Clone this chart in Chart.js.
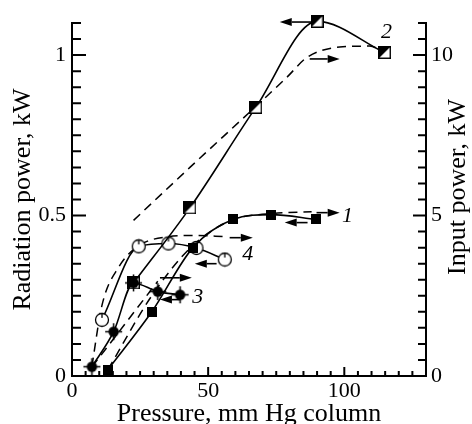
<!DOCTYPE html>
<html>
<head>
<meta charset="utf-8">
<script src="https://cdn.jsdelivr.net/npm/chart.js@4"></script>
<style>
  html, body { margin: 0; padding: 0; background: #fff; }
  #box { width: 472px; height: 424px; }
</style>
</head>
<body>
<div id="box"><canvas id="chart"></canvas></div>
<script>
// radiation power (kW, left axis) vs pressure (mm Hg), solid curves 1-4
const press1 = [13.2, 29.3, 44.4, 59.1, 73.2, 89.7];
const rad1   = [0.02, 0.20, 0.40, 0.488, 0.503, 0.488];
const press2 = [22.6, 43.3, 67.5, 90.0, 114.8];
const rad2   = [0.29, 0.524, 0.837, 1.105, 1.008];
const press3 = [7.3, 15.3, 22.6, 31.5, 39.7];
const rad3   = [0.029, 0.138, 0.29, 0.263, 0.253];
const press4 = [11.0, 24.5, 35.4, 45.7, 56.1];
const rad4   = [0.175, 0.404, 0.413, 0.399, 0.363];

// input power (kW, right axis), dashed curves
const pressIn1 = [13.2, 29.3, 44.4, 59.1, 73.2, 88.0];
const input1   = [0.2, 2.5, 4.07, 4.87, 5.06, 5.12];
const pressIn2 = [22.6, 43.3, 67.5, 78.8, 86.5, 98.3, 109.3, 114.8];
const input2   = [4.85, 6.5, 8.4, 9.3, 9.94, 10.25, 10.28, 10.08];
const pressIn3 = [7.3, 15.3, 22.6, 31.5];
const input3   = [0.28, 1.16, 1.97, 2.95];
const pressIn4 = [7.3, 11.0, 17.2, 24.5, 35.4, 45.7, 56.1];
const input4   = [0.3, 2.2, 3.4, 4.06, 4.34, 4.38, 4.34];

// arrows telling which axis a curve belongs to (pressure tail -> tip, at radiation-power level)
const arrowTail  = [88.0, 87.3, 89.8, 86.5, 32.3, 39.6, 53.1, 57.9];
const arrowTip   = [76.3, 98.3, 98.3, 78.1, 44.0, 32.3, 45.1, 66.4];
const arrowLevel = [1.103, 0.988, 0.509, 0.478, 0.306, 0.238, 0.35, 0.431];

// curve numbers
const curveNames = ['1', '2', '3', '4'];
const namePress  = [101.2, 115.5, 46.2, 64.5];
const nameRad    = [0.497, 1.072, 0.247, 0.378];

const serif = 'Liberation Serif';

function markerCanvas(size, draw) {
    const c = document.createElement('canvas');
    c.width = size; c.height = size;
    draw(c.getContext('2d'), size / 2);
    return c;
}
const squareMark = markerCanvas(10, function (g) {
    g.fillStyle = '#000'; g.fillRect(0, 0, 10, 10);
});
const halfMark = markerCanvas(13, function (g) {
    g.fillStyle = '#fff'; g.fillRect(0, 0, 13, 13);
    g.fillStyle = '#000';
    g.beginPath(); g.moveTo(1, 1); g.lineTo(12, 1); g.lineTo(1, 12); g.closePath(); g.fill();
    g.strokeStyle = '#000'; g.lineWidth = 1.5; g.strokeRect(0.75, 0.75, 11.5, 11.5);
});
const dotMark = markerCanvas(19, function (g, c) {
    g.strokeStyle = '#000'; g.lineWidth = 1.5;
    g.beginPath(); g.moveTo(c, 1); g.lineTo(c, 18); g.moveTo(1, c); g.lineTo(18, c); g.stroke();
    g.fillStyle = '#000'; g.beginPath(); g.arc(c, c, 5.2, 0, Math.PI * 2); g.fill();
});
const ringMark = markerCanvas(16, function (g, c) {
    g.fillStyle = '#fff'; g.strokeStyle = '#000'; g.lineWidth = 1.3;
    g.beginPath(); g.arc(c, c, 6.5, 0, Math.PI * 2); g.fill(); g.stroke();
    g.beginPath(); g.moveTo(c, c - 6.5); g.lineTo(c, c - 2); g.stroke();
});

function pts(xs, ys) {
    return xs.map(function (x, i) { return {x: x, y: ys[i]}; });
}
function solid(xs, ys, mark) {
    return {
        data: pts(xs, ys), yAxisID: 'y', borderColor: '#000', borderWidth: 1.6,
        pointStyle: mark, pointRadius: 6, cubicInterpolationMode: 'monotone', clip: false
    };
}
function dashed(xs, ys) {
    return {
        data: pts(xs, ys), yAxisID: 'y2', borderColor: '#000', borderWidth: 1.5,
        borderDash: [9, 6], pointRadius: 0, cubicInterpolationMode: 'monotone', clip: false
    };
}

function near(v, t) { return Math.abs(v - t) < 1e-6; }

const axisExtras = {
    id: 'axisExtras',
    afterDraw: function (chart) {
        const ctx = chart.ctx;
        const sx = chart.scales.x, sy = chart.scales.y, sy2 = chart.scales.y2;
        const area = chart.chartArea;
        ctx.save();
        ctx.strokeStyle = '#000';
        ctx.lineWidth = 2;
        ctx.beginPath();
        // inward ticks
        sx.ticks.forEach(function (t) {
            const px = sx.getPixelForValue(t.value);
            const len = near(t.value % 50, 0) ? 9 : 5;
            ctx.moveTo(px, area.bottom); ctx.lineTo(px, area.bottom - len);
        });
        sy.ticks.forEach(function (t) {
            const py = sy.getPixelForValue(t.value);
            const len = near(t.value * 2, Math.round(t.value * 2)) ? 14 : 9;
            ctx.moveTo(area.left, py); ctx.lineTo(area.left + len, py);
        });
        sy2.ticks.forEach(function (t) {
            const py = sy2.getPixelForValue(t.value);
            const len = near(t.value % 5, 0) ? 13 : 8;
            ctx.moveTo(area.right, py); ctx.lineTo(area.right - len, py);
        });
        ctx.stroke();

        // arrows
        ctx.fillStyle = '#000';
        ctx.lineWidth = 1.6;
        for (let i = 0; i < arrowTail.length; i++) {
            const x0 = sx.getPixelForValue(arrowTail[i]);
            const x1 = sx.getPixelForValue(arrowTip[i]);
            const y = sy.getPixelForValue(arrowLevel[i]);
            const dir = x1 > x0 ? 1 : -1;
            const head = 12;
            ctx.beginPath();
            ctx.moveTo(x0, y); ctx.lineTo(x1 - dir * head, y);
            ctx.stroke();
            ctx.beginPath();
            ctx.moveTo(x1, y);
            ctx.lineTo(x1 - dir * head, y - 4);
            ctx.lineTo(x1 - dir * head, y + 4);
            ctx.closePath();
            ctx.fill();
        }

        // curve numbers
        ctx.font = 'italic 22px "' + serif + '"';
        ctx.textAlign = 'center';
        ctx.textBaseline = 'middle';
        for (let i = 0; i < curveNames.length; i++) {
            ctx.fillText(curveNames[i], sx.getPixelForValue(namePress[i]), sy.getPixelForValue(nameRad[i]));
        }

        // right axis title reads bottom to top
        ctx.font = '26px "' + serif + '"';
        ctx.textBaseline = 'alphabetic';
        ctx.translate(465, 187);
        ctx.rotate(-Math.PI / 2);
        ctx.fillText('Input power, kW', 0, 0);
        ctx.restore();
    }
};

new Chart(document.getElementById('chart'), {
    type: 'line',
    data: {
        datasets: [
            solid(press1, rad1, squareMark),
            solid(press3, rad3, dotMark),
            solid(press2, rad2, halfMark),
            solid(press4, rad4, ringMark),
            dashed(pressIn1, input1),
            dashed(pressIn2, input2),
            dashed(pressIn3, input3),
            dashed(pressIn4, input4)
        ]
    },
    options: {
        responsive: true,
        maintainAspectRatio: false,
        animation: false,
        layout: { padding: { top: 23 } },
        plugins: { legend: { display: false }, tooltip: { enabled: false } },
        scales: {
            x: {
                type: 'linear', position: 'bottom', min: 0, max: 130,
                afterFit: function (s) { s.height = 48; },
                grid: { display: false, drawTicks: false },
                border: { display: true, color: '#000', width: 2 },
                ticks: {
                    stepSize: 5, autoSkip: false, maxRotation: 0, padding: 2, color: '#000',
                    font: { family: serif, size: 22 },
                    callback: function (v) { return near(v % 50, 0) ? String(v) : ''; }
                },
                title: {
                    display: true, text: 'Pressure, mm Hg column', color: '#000',
                    font: { family: serif, size: 26, lineHeight: 1 },
                    padding: { top: 0, bottom: -3 }
                }
            },
            y: {
                type: 'linear', position: 'left', min: 0, max: 1.1,
                afterFit: function (s) { s.width = 72; },
                grid: { display: false, drawTicks: false },
                border: { display: true, color: '#000', width: 2 },
                ticks: {
                    stepSize: 0.05, autoSkip: false, padding: 6, color: '#000',
                    font: { family: serif, size: 22 },
                    callback: function (v) {
                        return (near(v, 0) || near(v, 0.5) || near(v, 1)) ? String(Math.round(v * 10) / 10) : '';
                    }
                },
                title: {
                    display: true, text: 'Radiation power, kW', color: '#000',
                    font: { family: serif, size: 26, lineHeight: 1 },
                    padding: { top: 10, bottom: 0 }
                }
            },
            y2: {
                type: 'linear', position: 'right', min: 0, max: 11,
                afterFit: function (s) { s.width = 46; },
                grid: { display: false, drawTicks: false },
                border: { display: true, color: '#000', width: 2 },
                ticks: {
                    stepSize: 0.5, autoSkip: false, padding: 5, color: '#000',
                    font: { family: serif, size: 22 },
                    callback: function (v) { return near(v % 5, 0) ? String(v) : ''; }
                }
            }
        }
    },
    plugins: [axisExtras]
});
</script>
</body>
</html>
